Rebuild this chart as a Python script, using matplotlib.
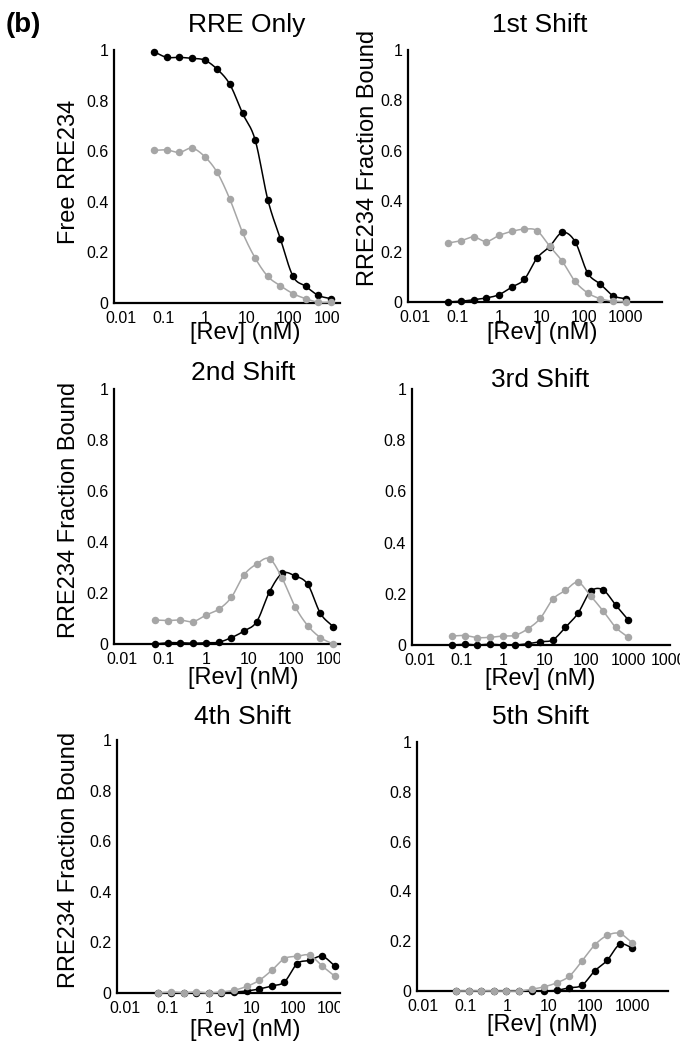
import numpy as np
import matplotlib
matplotlib.use("Agg")
import matplotlib.pyplot as plt
from matplotlib.ticker import NullLocator
from matplotlib.transforms import Bbox, TransformedBbox, ScaledTranslation

plt.rcParams['font.family'] = ['Liberation Sans', 'DejaVu Sans']

W, H = 680, 1057

# Rev concentration series (nM), 2-fold dilutions
rev_nm = [0.061, 0.122, 0.244, 0.488, 0.977, 1.95, 3.91, 7.81, 15.6, 31.3, 62.5, 125, 250, 500, 1000]

# values (black and grey series per panel)
rre_black = [0.993, 0.971, 0.971, 0.967, 0.960, 0.924, 0.864, 0.750, 0.645, 0.408, 0.253, 0.105, 0.066, 0.030, 0.017]
rre_gray = [0.603, 0.605, 0.595, 0.612, 0.579, 0.516, 0.410, 0.279, 0.178, 0.105, 0.068, 0.037, 0.017, 0.003, 0.003]

shift1_black = [0.0, 0.003, 0.009, 0.016, 0.029, 0.059, 0.090, 0.174, 0.220, 0.276, 0.240, 0.115, 0.071, 0.025, 0.013]
shift1_gray = [0.234, 0.243, 0.258, 0.240, 0.264, 0.280, 0.289, 0.283, 0.221, 0.161, 0.082, 0.036, 0.013, 0.003, 0.0]

shift2_black = [0.0, 0.005, 0.005, 0.003, 0.005, 0.007, 0.025, 0.051, 0.088, 0.205, 0.277, 0.267, 0.234, 0.120, 0.068]
shift2_gray = [0.094, 0.092, 0.094, 0.088, 0.113, 0.136, 0.183, 0.271, 0.314, 0.334, 0.257, 0.147, 0.072, 0.025, 0.0]

shift3_black = [0.0, 0.003, 0.0, 0.003, 0.0, 0.0, 0.005, 0.013, 0.020, 0.069, 0.124, 0.209, 0.215, 0.156, 0.098]
shift3_gray = [0.035, 0.037, 0.029, 0.030, 0.035, 0.038, 0.063, 0.104, 0.179, 0.213, 0.245, 0.192, 0.133, 0.069, 0.030]

shift4_black = [0.0, 0.0, 0.0, 0.001, 0.0, 0.001, 0.004, 0.008, 0.016, 0.028, 0.044, 0.116, 0.129, 0.145, 0.106]
shift4_gray = [0.0, 0.004, 0.001, 0.004, 0.0, 0.004, 0.011, 0.026, 0.050, 0.090, 0.136, 0.145, 0.149, 0.106, 0.066]

shift5_black = [0.0, 0.0, 0.0, 0.0, 0.0, 0.0, 0.0, 0.0, 0.003, 0.013, 0.023, 0.080, 0.123, 0.187, 0.173]
shift5_gray = [0.0, 0.0, 0.001, 0.0, 0.0, 0.0, 0.007, 0.017, 0.033, 0.060, 0.120, 0.184, 0.223, 0.231, 0.193]

titles = ['RRE Only', '1st Shift', '2nd Shift', '3rd Shift', '4th Shift', '5th Shift']
ylabels = ['Free RRE234', 'RRE234 Fraction Bound', 'RRE234 Fraction Bound', None,
           'RRE234 Fraction Bound', None]
black_series = [rre_black, shift1_black, shift2_black, shift3_black, shift4_black, shift5_black]
gray_series = [rre_gray, shift1_gray, shift2_gray, shift3_gray, shift4_gray, shift5_gray]
xtick_vals = [0.01, 0.1, 1, 10, 100, 1000]
xtick_labels = ['0.01', '0.1', '1', '10', '100', '1000']
ytick_vals = [0, 0.2, 0.4, 0.6, 0.8, 1]
ytick_labels = ['0', '0.2', '0.4', '0.6', '0.8', '1']

# layout in pixels: left, right, top, bottom, log10 xmin, log10 xmax
boxes = [
    (114, 340, 50, 303, -2.167, 3.214),
    (408, 662, 50, 302, -2.171, 3.862),
    (114, 340, 389, 644, -2.182, 3.161),
    (411.7, 670, 389, 645, -2.187, 3.862),
    (117, 340, 740, 993, -2.200, 3.120),
    (417, 668, 742, 991, -2.151, 3.854),
]
title_pos = [(247, 25), (540, 25), (243, 373), (540, 380), (242, 717), (540, 717)]
xlabel_pos = [(245, 333), (542, 333), (243, 678), (540, 679), (245, 1030), (542, 1025)]
ylabel_pos = [(69, 172), (368, 158), (69, 510), None, (69, 860), None]

GRAY = '#a6a6a6'


def smooth(x, y, n=16):
    # Catmull-Rom through the points in log-x space (like Excel smoothed lines)
    P = np.column_stack([np.log10(x), np.asarray(y, float)])
    P = np.vstack([2 * P[0] - P[1], P, 2 * P[-1] - P[-2]])
    t = np.linspace(0, 1, n, endpoint=False)[:, None]
    segs = []
    for i in range(1, len(P) - 2):
        p0, p1, p2, p3 = P[i - 1], P[i], P[i + 1], P[i + 2]
        seg = 0.5 * (2 * p1 + (-p0 + p2) * t + (2 * p0 - 5 * p1 + 4 * p2 - p3) * t ** 2
                     + (-p0 + 3 * p1 - 3 * p2 + p3) * t ** 3)
        segs.append(seg)
    segs.append(P[-2][None, :])
    out = np.vstack(segs)
    return 10 ** out[:, 0], out[:, 1]


fig = plt.figure(figsize=(W / 100, H / 100), dpi=100)
left_clip = TransformedBbox(Bbox([[0, 0], [340 / W, 1]]), fig.transFigure)

for i in range(6):
    l, r, t, b, xlo, xhi = boxes[i]
    ax = fig.add_axes([l / W, 1 - b / H, (r - l) / W, (b - t) / H])
    ax.set_xscale('log')
    ax.set_xlim(10 ** xlo, 10 ** xhi)
    ax.set_ylim(0, 1)

    bx, by = smooth(rev_nm, black_series[i])
    ax.plot(bx, by, color='black', lw=1.1, clip_on=False, zorder=3)
    ax.plot(rev_nm, black_series[i], 'o', color='black', ms=5.4, mec='none', clip_on=False, zorder=4)
    gx, gy = smooth(rev_nm, gray_series[i])
    ax.plot(gx, gy, color=GRAY, lw=1.1, clip_on=False, zorder=5)
    ax.plot(rev_nm, gray_series[i], 'o', color=GRAY, ms=5.4, mec='none', clip_on=False, zorder=6)

    xt = list(xtick_vals)
    xl = list(xtick_labels)
    if i == 3:
        xt.append(10000)
        xl.append('10000')
    ax.set_xticks(xt)
    ax.set_xticklabels(xl)
    ax.xaxis.set_minor_locator(NullLocator())
    ax.set_yticks(ytick_vals)
    ax.set_yticklabels(ytick_labels)
    ax.tick_params(axis='both', length=0, labelsize=11.5)
    ax.tick_params(axis='x', pad=5.5)
    ax.tick_params(axis='y', pad=4)

    for s in ['top', 'right']:
        ax.spines[s].set_visible(False)
    for s in ['left', 'bottom']:
        ax.spines[s].set_linewidth(1.6)
        ax.spines[s].set_color('black')

    if r <= 340:
        for lab in ax.get_xticklabels():
            lab.set_clip_box(left_clip)
            lab.set_clip_on(True)
    if i == 3:
        # the last label sits against the right edge and is cut off
        lab = ax.get_xticklabels()[-1]
        lab.set_horizontalalignment('left')
        lab.set_transform(lab.get_transform() + ScaledTranslation(-0.19, 0, fig.dpi_scale_trans))

    tx, ty = title_pos[i]
    fig.text(tx / W, 1 - ty / H, titles[i], ha='center', va='center', fontsize=19)
    xx, xy = xlabel_pos[i]
    fig.text(xx / W, 1 - xy / H, '[Rev] (nM)', ha='center', va='center', fontsize=17)
    if ylabels[i]:
        yx, yy = ylabel_pos[i]
        fig.text(yx / W, 1 - yy / H, ylabels[i], ha='center', va='center',
                 rotation=90, fontsize=17)

fig.text(6 / W, 1 - 25 / H, '(b)', ha='left', va='center', fontsize=20, fontweight='bold')

fig.savefig('out.png', dpi=100)
